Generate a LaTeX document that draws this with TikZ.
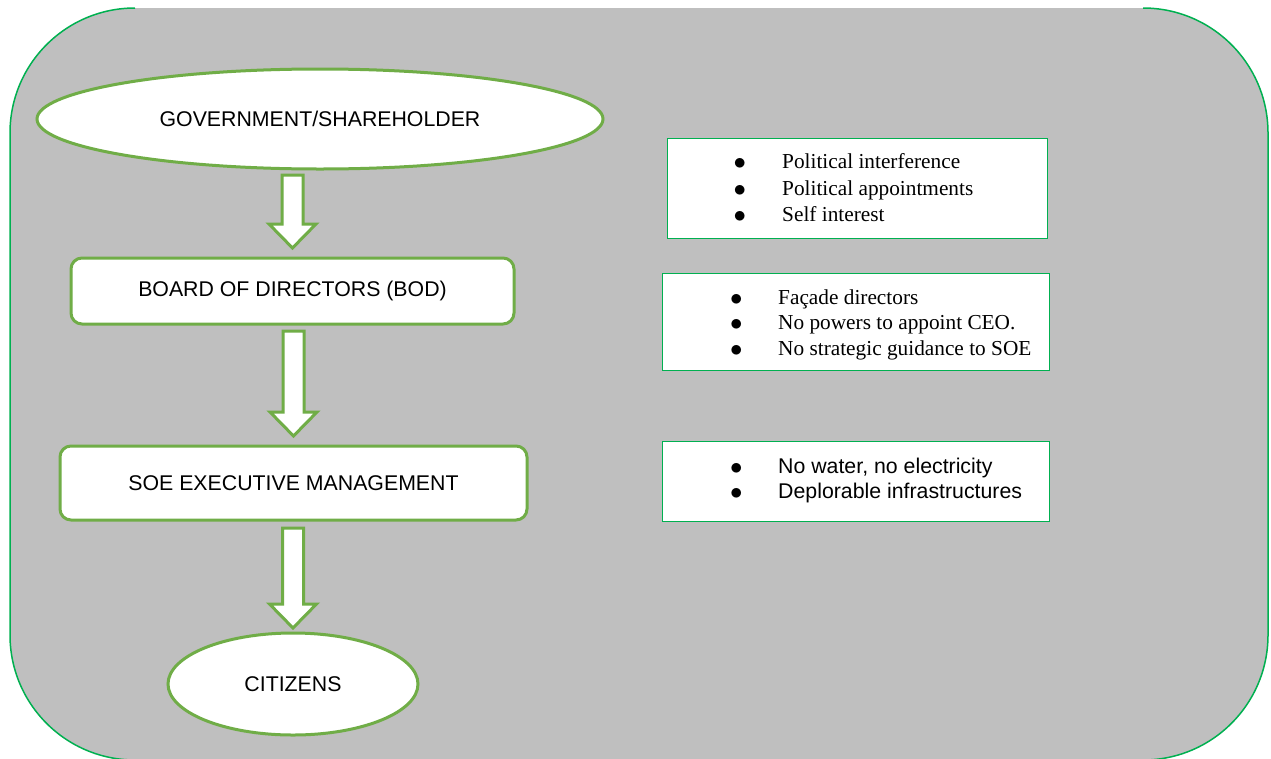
\documentclass[tikz,border=0pt]{standalone}
\usepackage{fontspec}
\setmainfont{Liberation Serif}
\newfontfamily\arialfont{Liberation Sans}
\usetikzlibrary{shapes.geometric,calc}
\definecolor{panelgray}{HTML}{BFBFBF}
\definecolor{edgegreen}{HTML}{00B050}
\definecolor{shapegreen}{HTML}{70AD47}

\tikzset{
  panel/.style={draw=edgegreen, line width=1.5pt},
  flowtext/.style={font=\arialfont\fontsize{21.3pt}{26pt}\selectfont, text=black},
  oval/.style={ellipse, draw=shapegreen, fill=white, line width=3pt, inner sep=0pt, flowtext},
  stage/.style={rectangle, rounded corners=11pt, draw=shapegreen, fill=white, line width=3pt, inner sep=0pt, flowtext},
  notebox/.style={rectangle, draw=edgegreen, fill=white, line width=1.5pt, inner sep=0pt},
  serifitem/.style={anchor=base west, inner sep=0pt, font=\fontsize{21.3pt}{26pt}\selectfont, text=black},
  sansitem/.style={anchor=base west, inner sep=0pt, flowtext},
  flowarrow/.style={draw=shapegreen, fill=white, line width=3pt, line join=miter},
}

% block arrow from the bottom of #1 down to the top of #2;
% #3 = gap below #1, #4 = gap above #2
\newcommand\stagearrow[4]{%
  \draw[flowarrow] let \p1=($(#2.north |- #1.south)+(0,#3)$), \p2=($(#2.north)+(0,-#4)$) in
    (\x1-10.5pt,\y1) -- (\x1+10.5pt,\y1) -- (\x1+10.5pt,\y2+24pt) -- (\x1+23.5pt,\y2+24pt)
    -- (\x2,\y2) -- (\x1-23.5pt,\y2+24pt) -- (\x1-10.5pt,\y2+24pt) -- cycle;
}

\newcommand\itembullet[1]{\makebox[#1][l]{\hspace{-1.5pt}\raisebox{-1.2pt}{\scalebox{1.2}{$\bullet$}}}}

\begin{document}
\begin{tikzpicture}[x=1pt,y=-1pt]
  \useasboundingbox (0,0) rectangle (1271,758);
  \clip (0,0) rectangle (1271,758);

  % rounded grey panel
  \fill[panelgray, rounded corners=125pt] (10,8) rectangle (1268,760);
  \draw[panel, rounded corners=125pt] (135,8) -- (10,8) -- (10,760) -- (1268,760) -- (1268,8) -- (1143,8);

  % chain of governance
  \node[oval, minimum width=566pt, minimum height=100pt] (gov) at (320,119) {GOVERNMENT/SHAREHOLDER};
  \node[stage, minimum width=443pt, minimum height=66pt] (bod) at (292.5,291) {BOARD OF DIRECTORS (BOD)};
  \node[stage, minimum width=467pt, minimum height=74pt] (soe) at (293.5,483) {SOE EXECUTIVE MANAGEMENT};
  \node[oval, minimum width=250pt, minimum height=102pt] (cit) at (293,684) {CITIZENS};

  \stagearrow{gov}{bod}{4.5}{8.5}
  \stagearrow{bod}{soe}{5.5}{8.5}
  \stagearrow{soe}{cit}{6.5}{3.5}

  % issue boxes
  \node[notebox, minimum width=380pt, minimum height=100pt] (n1) at (857.5,188.5) {};
  \node[notebox, minimum width=387pt, minimum height=97pt] (n2) at (856,322) {};
  \node[notebox, minimum width=387pt, minimum height=80pt] (n3) at (856,481.5) {};

  \node[serifitem] (n1a) at (735,168.5) {\itembullet{47pt}Political interference};
  \node[serifitem] (n1b) at (735,195) {\itembullet{47pt}Political appointments};
  \node[serifitem] (n1c) at (735,221.5) {\itembullet{47pt}Self interest};

  \node[serifitem] (n2a) at (731.5,304) {\itembullet{46.5pt}Façade directors};
  \node[serifitem] (n2b) at (731.5,329.5) {\itembullet{46.5pt}No powers to appoint CEO.};
  \node[serifitem] (n2c) at (731.5,355) {\itembullet{46.5pt}No strategic guidance to SOE};

  \node[sansitem] (n3a) at (731.5,473) {\itembullet{46.5pt}No water, no electricity};
  \node[sansitem] (n3b) at (731.5,498) {\itembullet{46.5pt}Deplorable infrastructures};
\end{tikzpicture}
\end{document}
